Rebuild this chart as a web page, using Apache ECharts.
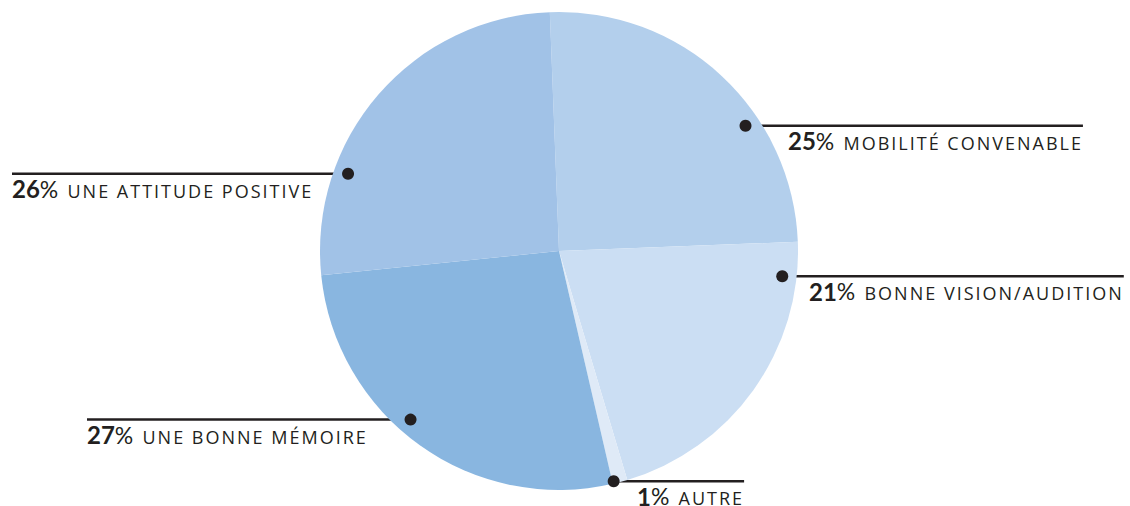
<!DOCTYPE html>
<html lang="fr">
<head>
    <meta charset="UTF-8">
    <title>Pie</title>
    <style>
        * { padding: 0; margin: 0; }
        html, body { height: 100%; width: 100%; background: #fff; }
        #chart { width: 1130px; height: 506px; }
        /* petites capitales espacées */
        #chart text[style*="Open Sans"], #chart text[font-family*="Open Sans"] { letter-spacing: 2px; }
    </style>
</head>
<body>
    <div id="chart"></div>
    <script src="https://cdn.jsdelivr.net/npm/echarts@6/dist/echarts.min.js"></script>
    <script type="text/javascript">
        // données
        const categories = ['mobilité convenable', 'bonne vision/audition', 'autre', 'une bonne mémoire', 'une attitude positive'];
        const values = [25, 21, 1, 27, 26];
        const colors = ['#b3cfec', '#cbdef3', '#dfeaf7', '#89b6e0', '#a1c2e7'];

        // où pointe chaque étiquette : position sur le cercle (0-100, sens horaire) et rayon relatif
        const anchorPct = [16.2, 27.4, 46.9, 62.1, 81.2];
        const anchorRad = [0.94, 0.94, 0.99, 0.94, 0.94];
        const textX = [788, 809, 637, 87, 12];

        const cx = 559, cy = 251, R = 239, start = 92.2;
        const tracking = 2;

        function anchorPoint(i) {
            let a = (start - anchorPct[i] * 3.6) * Math.PI / 180;
            return [cx + anchorRad[i] * R * Math.cos(a), cy - anchorRad[i] * R * Math.sin(a)];
        }

        const chart = echarts.init(document.getElementById('chart'), null, { renderer: 'svg' });
        const option = {
            animation: false,
            backgroundColor: '#fff',
            polar: { center: [cx, cy], radius: R },
            angleAxis: { type: 'value', min: 0, max: 100, startAngle: start, clockwise: true, show: false },
            radiusAxis: { type: 'value', min: 0, max: 1, show: false },
            series: [
                {
                    type: 'pie',
                    center: [cx, cy],
                    radius: R,
                    startAngle: start,
                    clockwise: true,
                    avoidLabelOverlap: false,
                    silent: true,
                    itemStyle: { borderWidth: 0 },
                    data: categories.map((c, i) => ({ name: c, value: values[i], itemStyle: { color: colors[i] } })),
                    label: {
                        show: true,
                        position: 'outside',
                        color: '#231f20',
                        fontFamily: 'Lato',
                        formatter: p => '{n|' + p.value + '}{p|%}{s|  }{t|' + p.name.toUpperCase() + '}',
                        rich: {
                            n: { fontSize: 24, fontWeight: 'bold', fontFamily: 'Lato', color: '#231f20', lineHeight: 22 },
                            p: { fontSize: 23, fontFamily: 'Lato', color: '#231f20', lineHeight: 22 },
                            s: { fontSize: 18, fontFamily: 'Lato', lineHeight: 22 },
                            t: { fontSize: 18, fontWeight: 500, fontFamily: 'Open Sans', color: '#231f20', verticalAlign: 'bottom', lineHeight: 22 }
                        }
                    },
                    labelLine: { show: true, length: 0, length2: 0, lineStyle: { color: '#231f20', width: 2.5 } },
                    labelLayout: function (params) {
                        let i = params.dataIndex;
                        let pt = anchorPoint(i);
                        let x = textX[i];
                        let w = params.labelRect.width + tracking * categories[i].length;
                        let lineEnd = pt[0] < cx ? x : x + w;
                        return {
                            x: x,
                            y: pt[1] + 4,
                            align: 'left',
                            verticalAlign: 'top',
                            labelLinePoints: [pt, [lineEnd, pt[1]], [lineEnd, pt[1]]]
                        };
                    }
                },
                {
                    type: 'scatter',
                    coordinateSystem: 'polar',
                    symbolSize: 12,
                    z: 5,
                    silent: true,
                    itemStyle: { color: '#231f20', opacity: 1 },
                    data: anchorPct.map((p, i) => [anchorRad[i], p])
                }
            ]
        };
        chart.setOption(option);
    </script>
</body>
</html>
